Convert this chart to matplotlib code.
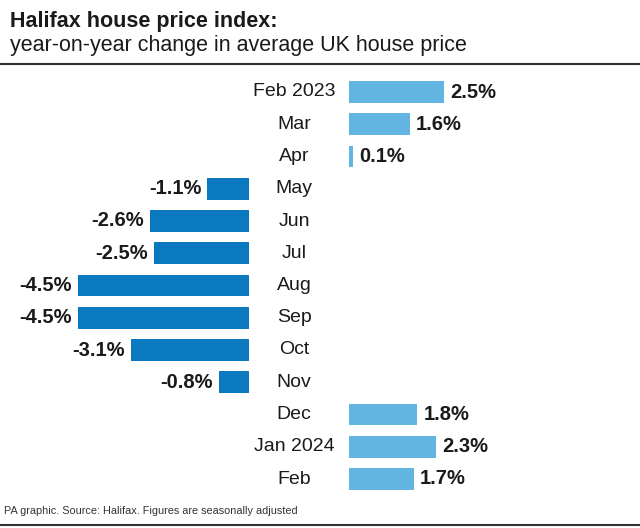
import matplotlib.pyplot as plt
from matplotlib.transforms import blended_transform_factory
from matplotlib.lines import Line2D

months = ['Feb 2023', 'Mar', 'Apr', 'May', 'Jun', 'Jul', 'Aug', 'Sep',
          'Oct', 'Nov', 'Dec', 'Jan 2024', 'Feb']
values = [2.5, 1.6, 0.1, -1.1, -2.6, -2.5, -4.5, -4.5, -3.1, -0.8, 1.8, 2.3, 1.7]

pos_col = '#62b5e0'
neg_col = '#0b79c0'

plt.rcParams['font.family'] = ['Liberation Sans', 'DejaVu Sans']

W, H = 640, 528
fig = plt.figure(figsize=(6.4, 5.28), dpi=100)

# pixel layout
px_unit = 38.0
row0, step = 92.0, 32.25
top = row0 - step / 2
bot = row0 + step * 12 + step / 2
zero_neg, zero_pos = 249, 349

ax_l = fig.add_axes([0, 1 - bot / H, zero_neg / W, (bot - top) / H])
ax_r = fig.add_axes([zero_pos / W, 1 - bot / H, (W - zero_pos) / W, (bot - top) / H])
ax_l.set_xlim(-zero_neg / px_unit, 0)
ax_r.set_xlim(0, (W - zero_pos) / px_unit)
for ax in (ax_l, ax_r):
    ax.set_ylim(len(months) - 0.5, -0.5)
    ax.axis('off')

ys = list(range(len(months)))
for y, v in zip(ys, values):
    if v >= 0:
        ax_r.barh(y, v, height=0.68, color=pos_col)
        ax_r.text(v + 6 / px_unit, y, f'{v:.1f}%', ha='left', va='center',
                  fontsize=14.5, fontweight='bold', color='#1a1a1a')
    else:
        ax_l.barh(y, v, height=0.68, color=neg_col)
        ax_l.text(v - 6 / px_unit, y, f'{v:.1f}%', ha='right', va='center',
                  fontsize=14.5, fontweight='bold', color='#1a1a1a')

tr = blended_transform_factory(fig.transFigure, ax_r.transData)
for y, m in zip(ys, months):
    fig.text(294 / W, y, m, transform=tr, ha='center', va='center',
             fontsize=14, color='#1a1a1a')

fig.text(10 / W, 1 - 21 / H, 'Halifax house price index:', fontsize=15.5,
         fontweight='bold', va='center', color='#1a1a1a')
fig.text(10 / W, 1 - 45 / H, 'year-on-year change in average UK house price',
         fontsize=15.5, va='center', color='#1a1a1a')
fig.text(4 / W, 1 - 511 / H, 'PA graphic. Source: Halifax. Figures are seasonally adjusted',
         fontsize=7.8, va='center', color='#333333')

fig.add_artist(Line2D([0, 1], [1 - 64 / H, 1 - 64 / H], transform=fig.transFigure,
                      color='#333333', lw=1.5))
fig.add_artist(Line2D([0, 1], [1 - 525 / H, 1 - 525 / H], transform=fig.transFigure,
                      color='#333333', lw=1.5))

fig.savefig('out.png', dpi=100)
